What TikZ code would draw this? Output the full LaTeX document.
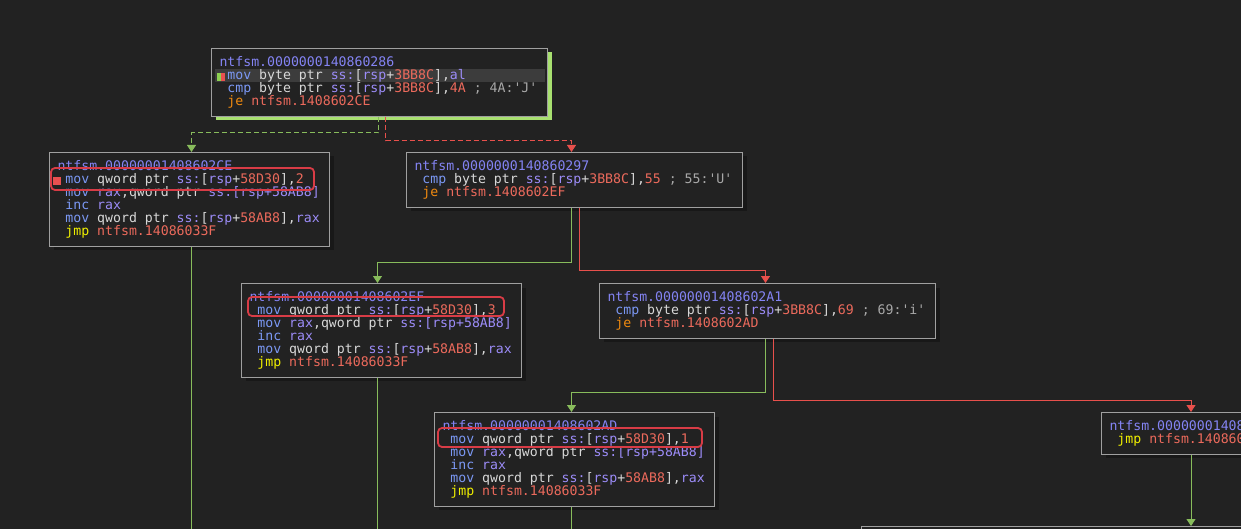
\documentclass[tikz,border=0pt]{standalone}
\usepackage{fontspec}
\setmonofont{DejaVu Sans Mono}
\usepackage{xcolor}
\usetikzlibrary{arrows.meta, shadows}

\definecolor{bgc}{HTML}{222222}
\definecolor{framec}{HTML}{A0A0A0}
\definecolor{shadowc}{HTML}{181818}
\definecolor{selgreen}{HTML}{A8E070}
\definecolor{rowc}{HTML}{3C3C3C}
\definecolor{txtc}{HTML}{D8D8D8}
\definecolor{titc}{HTML}{8484F4}
\definecolor{opc}{HTML}{7B98F4}
\definecolor{regc}{HTML}{9C8CF8}
\definecolor{hexc}{HTML}{EC6A5C}
\definecolor{cmtc}{HTML}{A8A8A8}
\definecolor{jec}{HTML}{F08A10}
\definecolor{jmpc}{HTML}{F0F000}
\definecolor{mkgreen}{HTML}{8CD050}
\definecolor{mkred}{HTML}{E85050}
\definecolor{yesc}{HTML}{88BC5C}
\definecolor{noc}{HTML}{E8504C}
\definecolor{markc}{HTML}{D83C46}

% asm token colours
\newcommand\asmfont{\ttfamily\fontsize{13.2pt}{13pt}\selectfont}
\newcommand\asmsetup{\frenchspacing\lineskiplimit=-100pt\relax\baselineskip=13pt\relax
  \spaceskip=\fontcharwd\font`0\relax\xspaceskip=\spaceskip}
\newcommand\opm[1]{\textcolor{opc}{#1}}
\newcommand\rgs[1]{\textcolor{regc}{#1}}
\newcommand\hexv[1]{\textcolor{hexc}{#1}}
\newcommand\cmtx[1]{\textcolor{cmtc}{#1}}
\newcommand\jcond[1]{\textcolor{jec}{#1}}
\newcommand\jump[1]{\textcolor{jmpc}{#1}}
\newcommand\asmln[1]{\hbox{\vrule height9.5pt depth3.5pt width0pt #1}}
\newcommand\blkt[1]{\asmln{\textcolor{titc}{#1}}}
\newcommand\ind{\hphantom{0}}

\begin{document}
\begin{tikzpicture}[x=1pt, y=-1pt,
    base/.style={draw=framec, line width=1pt, fill=bgc, anchor=north west,
      inner xsep=8pt, inner ysep=7.5pt, text=txtc, font=\asmfont,
      execute at begin node=\asmsetup},
    asmblk/.style={base, drop shadow={shadow xshift=4pt, shadow yshift=-4pt, fill=shadowc, opacity=1}},
    selblk/.style={base, drop shadow={shadow xshift=4pt, shadow yshift=-4pt, fill=selgreen, opacity=1}},
    yesline/.style={draw=yesc, line width=1pt},
    yesedge/.style={yesline, -{Triangle[width=9pt,length=7pt]}},
    noedge/.style={draw=noc, line width=1pt, -{Triangle[width=9pt,length=7pt]}},
    dashedge/.style={dash pattern=on 5pt off 3pt},
    hilite/.style={draw=markc, line width=1.8pt, rounded corners=4pt}]

    \useasboundingbox (0,0) rectangle (1241,529);
    \fill[bgc] (0,0) rectangle (1241,529);
    \clip (0,0) rectangle (1241,529);

    % blocks
    \node[selblk, text width=320pt] (a) at (211,48) {%
      \blkt{ntfsm.0000000140860286}
      \asmln{\rlap{\hskip-5pt\textcolor{rowc}{\vrule width330pt height10pt depth3pt}}%
        \rlap{\hskip-3pt\textcolor{mkgreen}{\vrule width4pt height6pt depth2pt}\textcolor{mkred}{\vrule width4pt height6pt depth2pt}}%
        \ind\opm{mov} byte ptr \rgs{ss:}[\rgs{rsp}+\hexv{3BB8C}],\rgs{al}}
      \asmln{\ind\opm{cmp} byte ptr \rgs{ss:}[\rgs{rsp}+\hexv{3BB8C}],\hexv{4A} \cmtx{; 4A:'J'}}
      \asmln{\ind\jcond{je} \hexv{ntfsm.1408602CE}}};

    \node[asmblk, text width=264pt] (b) at (49,152) {%
      \blkt{ntfsm.00000001408602CE}
      \asmln{\rlap{\hskip-5pt\textcolor{mkred}{\vrule width8pt height6.5pt depth1.5pt}}%
        \ind\opm{mov} qword ptr \rgs{ss:}[\rgs{rsp}+\hexv{58D30}],\hexv{2}}
      \asmln{\ind\opm{mov} \rgs{rax},qword ptr \rgs{ss:[rsp+58AB8]}}
      \asmln{\ind\opm{inc} \rgs{rax}}
      \asmln{\ind\opm{mov} qword ptr \rgs{ss:}[\rgs{rsp}+\hexv{58AB8}],\rgs{rax}}
      \asmln{\ind\jump{jmp} \hexv{ntfsm.14086033F}}};

    \node[asmblk, text width=320pt] (c) at (406,152) {%
      \blkt{ntfsm.0000000140860297}
      \asmln{\ind\opm{cmp} byte ptr \rgs{ss:}[\rgs{rsp}+\hexv{3BB8C}],\hexv{55} \cmtx{; 55:'U'}}
      \asmln{\ind\jcond{je} \hexv{ntfsm.1408602EF}}};

    \node[asmblk, text width=264pt] (d) at (241,283) {%
      \blkt{ntfsm.00000001408602EF}
      \asmln{\ind\opm{mov} qword ptr \rgs{ss:}[\rgs{rsp}+\hexv{58D30}],\hexv{3}}
      \asmln{\ind\opm{mov} \rgs{rax},qword ptr \rgs{ss:[rsp+58AB8]}}
      \asmln{\ind\opm{inc} \rgs{rax}}
      \asmln{\ind\opm{mov} qword ptr \rgs{ss:}[\rgs{rsp}+\hexv{58AB8}],\rgs{rax}}
      \asmln{\ind\jump{jmp} \hexv{ntfsm.14086033F}}};

    \node[asmblk, text width=320pt] (e) at (599,283) {%
      \blkt{ntfsm.00000001408602A1}
      \asmln{\ind\opm{cmp} byte ptr \rgs{ss:}[\rgs{rsp}+\hexv{3BB8C}],\hexv{69} \cmtx{; 69:'i'}}
      \asmln{\ind\jcond{je} \hexv{ntfsm.1408602AD}}};

    \node[asmblk, text width=264pt] (f) at (434,412) {%
      \blkt{ntfsm.00000001408602AD}
      \asmln{\ind\opm{mov} qword ptr \rgs{ss:}[\rgs{rsp}+\hexv{58D30}],\hexv{1}}
      \asmln{\ind\opm{mov} \rgs{rax},qword ptr \rgs{ss:[rsp+58AB8]}}
      \asmln{\ind\opm{inc} \rgs{rax}}
      \asmln{\ind\opm{mov} qword ptr \rgs{ss:}[\rgs{rsp}+\hexv{58AB8}],\rgs{rax}}
      \asmln{\ind\jump{jmp} \hexv{ntfsm.14086033F}}};

    \node[asmblk, text width=186pt] (g) at (1101,412) {%
      \blkt{ntfsm.00000001408602AB}
      \asmln{\ind\jump{jmp} \hexv{ntfsm.14086033F}}};

    \node[asmblk, minimum width=500pt, minimum height=60pt] (h) at (861,526) {};

    % marked lines
    \draw[hilite] (51,168) rectangle (314,190);
    \draw[hilite] (248,297) rectangle (504,316);
    \draw[hilite] (438,428) rectangle (702,447);

    % branches
    \draw[yesedge, dashedge] ([xshift=-1pt]a.south) -- ++(0,16) -| ([xshift=2pt]b.north);
    \draw[noedge, dashedge] ([xshift=6pt]a.south) -- ++(0,24) -| ([xshift=-3pt]c.north);
    \draw[yesedge] ([xshift=-3pt]c.south) -- ++(0,55) -| ([xshift=-4pt]d.north);
    \draw[noedge] ([xshift=5pt]c.south) -- ++(0,63) -| ([xshift=-2pt]e.north);
    \draw[yesedge] ([xshift=-2pt]e.south) -- ++(0,54) -| ([xshift=-3pt]f.north);
    \coordinate (gin) at ([xshift=90pt]g.north west);
    \coordinate (gout) at ([xshift=90pt]g.south west);
    \draw[noedge] ([xshift=6pt]e.south) -- ++(0,62) -| (gin);
    \draw[yesedge] (gout) -- (gout |- h.north);

    % jumps leaving the view
    \coordinate (bout) at (191,529);
    \coordinate (dout) at (377,529);
    \coordinate (fout) at (571,529);
    \draw[yesline] (b.south -| bout) -- (bout);
    \draw[yesline] (d.south -| dout) -- (dout);
    \draw[yesline] (f.south -| fout) -- (fout);
\end{tikzpicture}
\end{document}
